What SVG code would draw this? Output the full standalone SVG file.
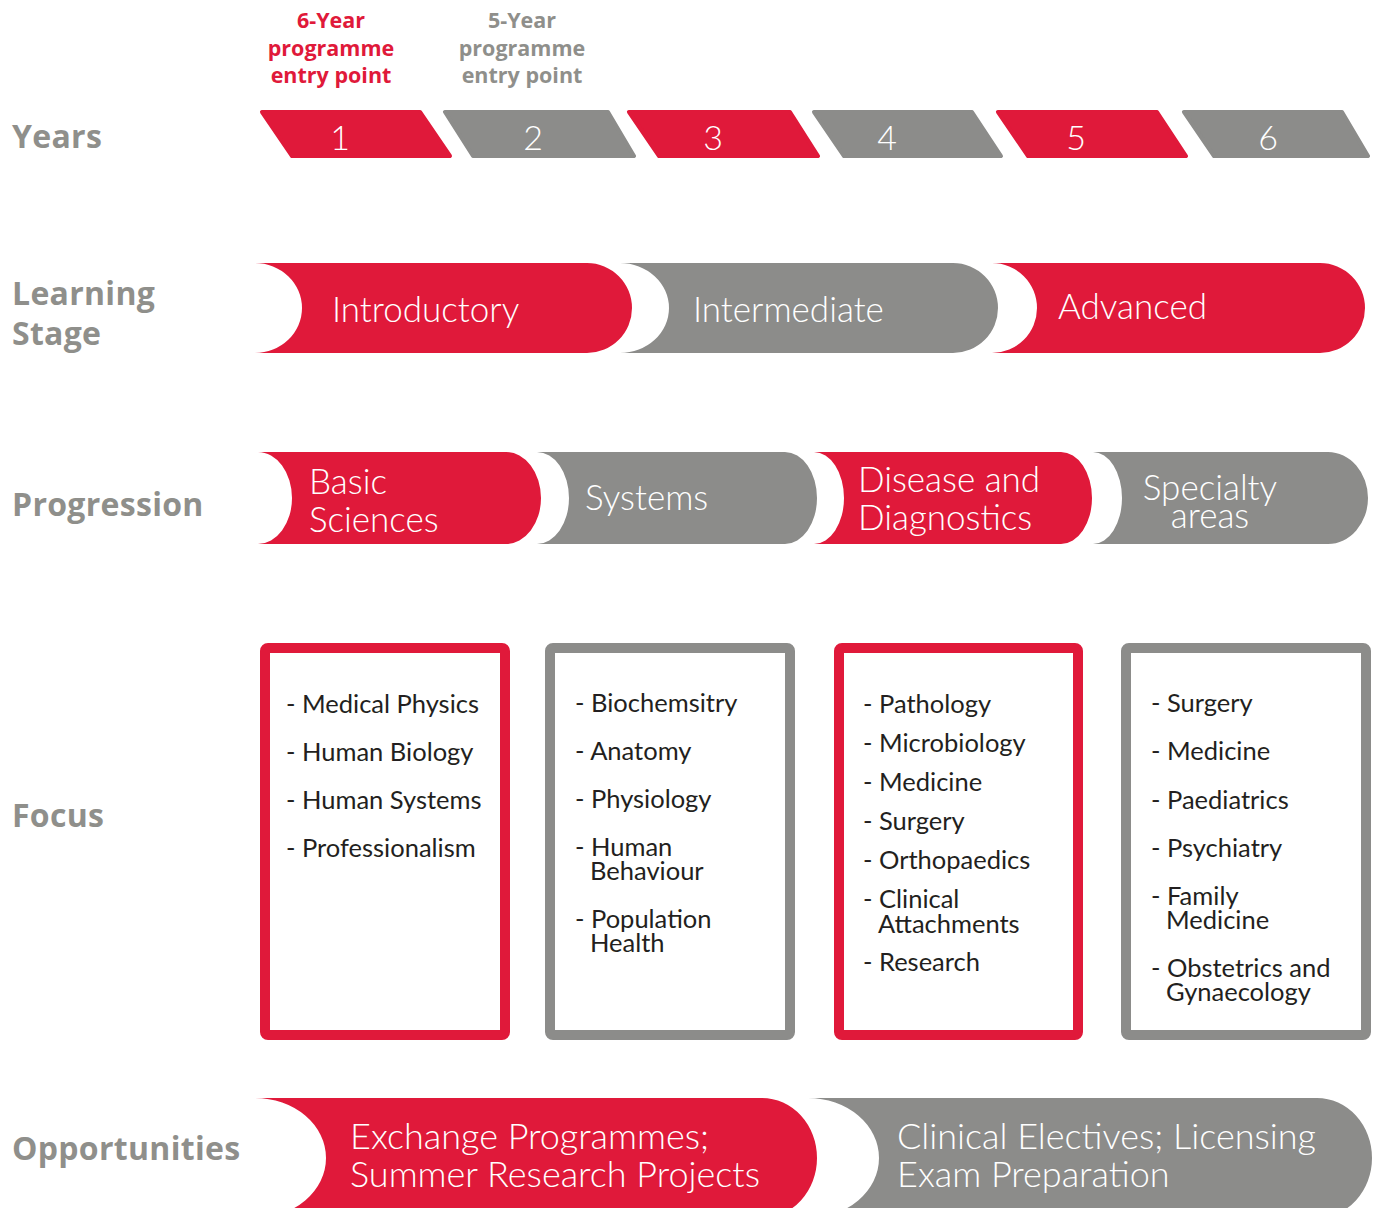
<svg xmlns="http://www.w3.org/2000/svg" width="1375" height="1208" viewBox="0 0 1375 1208">
<style>
.red{fill:#E0193A;}
.gray{fill:#8C8C8A;}
.yr{stroke-linejoin:round;stroke-width:4;}
.yr.red{stroke:#E0193A;}
.yr.gray{stroke:#8C8C8A;}
.lbl{font-family:"Open Sans","Liberation Sans",sans-serif;font-weight:bold;font-size:32px;letter-spacing:0.3px;fill:#8F8F8B;}
.hdr{font-family:"Open Sans","Liberation Sans",sans-serif;font-weight:bold;font-size:21.5px;text-anchor:middle;}
.num{font-family:Lato,"Liberation Sans",sans-serif;font-weight:300;font-size:34px;fill:#fff;text-anchor:middle;}
.wt{font-family:Lato,"Liberation Sans",sans-serif;font-weight:300;font-size:35px;fill:#fff;}
.wt.big{font-size:36px;}
.box{fill:#fff;stroke-width:10;}
.box.r{stroke:#E0193A;}
.box.g{stroke:#8C8C8A;}
.ft{font-family:Lato,"Liberation Sans",sans-serif;font-size:25.5px;fill:#231F20;}
</style>
<rect width="1375" height="1208" fill="#fff"/>

<g id="row-labels">
<text class="lbl" x="12" y="148">Years</text>
<text class="lbl" x="12" y="305">Learning</text>
<text class="lbl" x="12" y="345">Stage</text>
<text class="lbl" x="12" y="516">Progression</text>
<text class="lbl" x="12" y="827">Focus</text>
<text class="lbl" x="12" y="1160">Opportunities</text>
</g>

<g id="entry-6year">
<text class="hdr" fill="#E0193A" x="331" y="28">6-Year</text>
<text class="hdr" fill="#E0193A" x="331" y="56">programme</text>
<text class="hdr" fill="#E0193A" x="331" y="83">entry point</text>
</g>
<g id="entry-5year">
<text class="hdr" fill="#8F8F8B" x="522" y="28">5-Year</text>
<text class="hdr" fill="#8F8F8B" x="522" y="56">programme</text>
<text class="hdr" fill="#8F8F8B" x="522" y="83">entry point</text>
</g>

<g id="year-1"><polygon class="yr red" points="262,112 420,112 450,156 292,156"/><text class="num" x="340" y="150">1</text></g>
<g id="year-2"><polygon class="yr gray" points="445,112 608,112 634,156 473,156"/><text class="num" x="533" y="150">2</text></g>
<g id="year-3"><polygon class="yr red" points="629,112 790,112 818,156 659,156"/><text class="num" x="713" y="150">3</text></g>
<g id="year-4"><polygon class="yr gray" points="814,112 972,112 1001,156 844,156"/><text class="num" x="887" y="150">4</text></g>
<g id="year-5"><polygon class="yr red" points="998,112 1157,112 1186,156 1028,156"/><text class="num" x="1076" y="150">5</text></g>
<g id="year-6"><polygon class="yr gray" points="1184,112 1342,112 1368,156 1214,156"/><text class="num" x="1268" y="150">6</text></g>

<g id="stage-introductory">
<path class="red" d="M255,263 L587,263 A45,45 0 0 1 587,353 L255,353 A47,45 0 0 0 255,263 Z"/>
<text class="wt" x="332" y="322">Introductory</text>
</g>
<g id="stage-intermediate">
<path class="gray" d="M620,263 L953,263 A45,45 0 0 1 953,353 L620,353 A49,45 0 0 0 620,263 Z"/>
<text class="wt" x="693" y="322">Intermediate</text>
</g>
<g id="stage-advanced">
<path class="red" d="M992,263 L1320,263 A45,45 0 0 1 1320,353 L992,353 A45,45 0 0 0 992,263 Z"/>
<text class="wt" x="1058" y="319">Advanced</text>
</g>

<g id="prog-basic">
<path class="red" d="M258,452 L506,452 A35,46 0 0 1 506,544 L258,544 A34,46 0 0 0 258,452 Z"/>
<text class="wt" x="309" y="494">Basic</text>
<text class="wt" x="309" y="532">Sciences</text>
</g>
<g id="prog-systems">
<path class="gray" d="M537,452 L785,452 A32,46 0 0 1 785,544 L537,544 A32,46 0 0 0 537,452 Z"/>
<text class="wt" x="585" y="510">Systems</text>
</g>
<g id="prog-disease">
<path class="red" d="M814,452 L1061,452 A31,46 0 0 1 1061,544 L814,544 A30,46 0 0 0 814,452 Z"/>
<text class="wt" x="858" y="492">Disease and</text>
<text class="wt" x="858" y="530">Diagnostics</text>
</g>
<g id="prog-specialty">
<path class="gray" d="M1093,452 L1328,452 A40,46 0 0 1 1328,544 L1093,544 A29,46 0 0 0 1093,452 Z"/>
<text class="wt" x="1210" y="500" text-anchor="middle">Specialty</text>
<text class="wt" x="1210" y="528" text-anchor="middle">areas</text>
</g>

<g id="focus-1">
<rect class="box r" x="265" y="648" width="240" height="387" rx="3"/>
<text class="ft" x="286" y="713">- Medical Physics</text>
<text class="ft" x="286" y="761">- Human Biology</text>
<text class="ft" x="286" y="809">- Human Systems</text>
<text class="ft" x="286" y="857">- Professionalism</text>
</g>
<g id="focus-2">
<rect class="box g" x="550" y="648" width="240" height="387" rx="3"/>
<text class="ft" x="575" y="712">- Biochemsitry</text>
<text class="ft" x="575" y="760">- Anatomy</text>
<text class="ft" x="575" y="808">- Physiology</text>
<text class="ft" x="575" y="856">- Human</text>
<text class="ft" x="590" y="880">Behaviour</text>
<text class="ft" x="575" y="928">- Population</text>
<text class="ft" x="590" y="952">Health</text>
</g>
<g id="focus-3">
<rect class="box r" x="839" y="648" width="239" height="387" rx="3"/>
<text class="ft" x="863" y="713">- Pathology</text>
<text class="ft" x="863" y="752">- Microbiology</text>
<text class="ft" x="863" y="791">- Medicine</text>
<text class="ft" x="863" y="830">- Surgery</text>
<text class="ft" x="863" y="869">- Orthopaedics</text>
<text class="ft" x="863" y="908">- Clinical</text>
<text class="ft" x="878" y="933">Attachments</text>
<text class="ft" x="863" y="971">- Research</text>
</g>
<g id="focus-4">
<rect class="box g" x="1126" y="648" width="240" height="387" rx="3"/>
<text class="ft" x="1151" y="712">- Surgery</text>
<text class="ft" x="1151" y="760">- Medicine</text>
<text class="ft" x="1151" y="809">- Paediatrics</text>
<text class="ft" x="1151" y="857">- Psychiatry</text>
<text class="ft" x="1151" y="905">- Family</text>
<text class="ft" x="1166" y="929">Medicine</text>
<text class="ft" x="1151" y="977">- Obstetrics and</text>
<text class="ft" x="1166" y="1001">Gynaecology</text>
</g>

<g id="opp-exchange">
<path class="red" d="M255,1098 L762,1098 A55,60 0 0 1 762,1218 L255,1218 A71,60 0 0 0 255,1098 Z"/>
<text class="wt big" x="350" y="1149">Exchange Programmes;</text>
<text class="wt big" x="350" y="1187">Summer Research Projects</text>
</g>
<g id="opp-clinical">
<path class="gray" d="M808,1098 L1317,1098 A55,60 0 0 1 1317,1218 L808,1218 A71,60 0 0 0 808,1098 Z"/>
<text class="wt big" x="897" y="1149">Clinical Electives; Licensing</text>
<text class="wt big" x="897" y="1187">Exam Preparation</text>
</g>

<g id="connectors"></g>
</svg>
